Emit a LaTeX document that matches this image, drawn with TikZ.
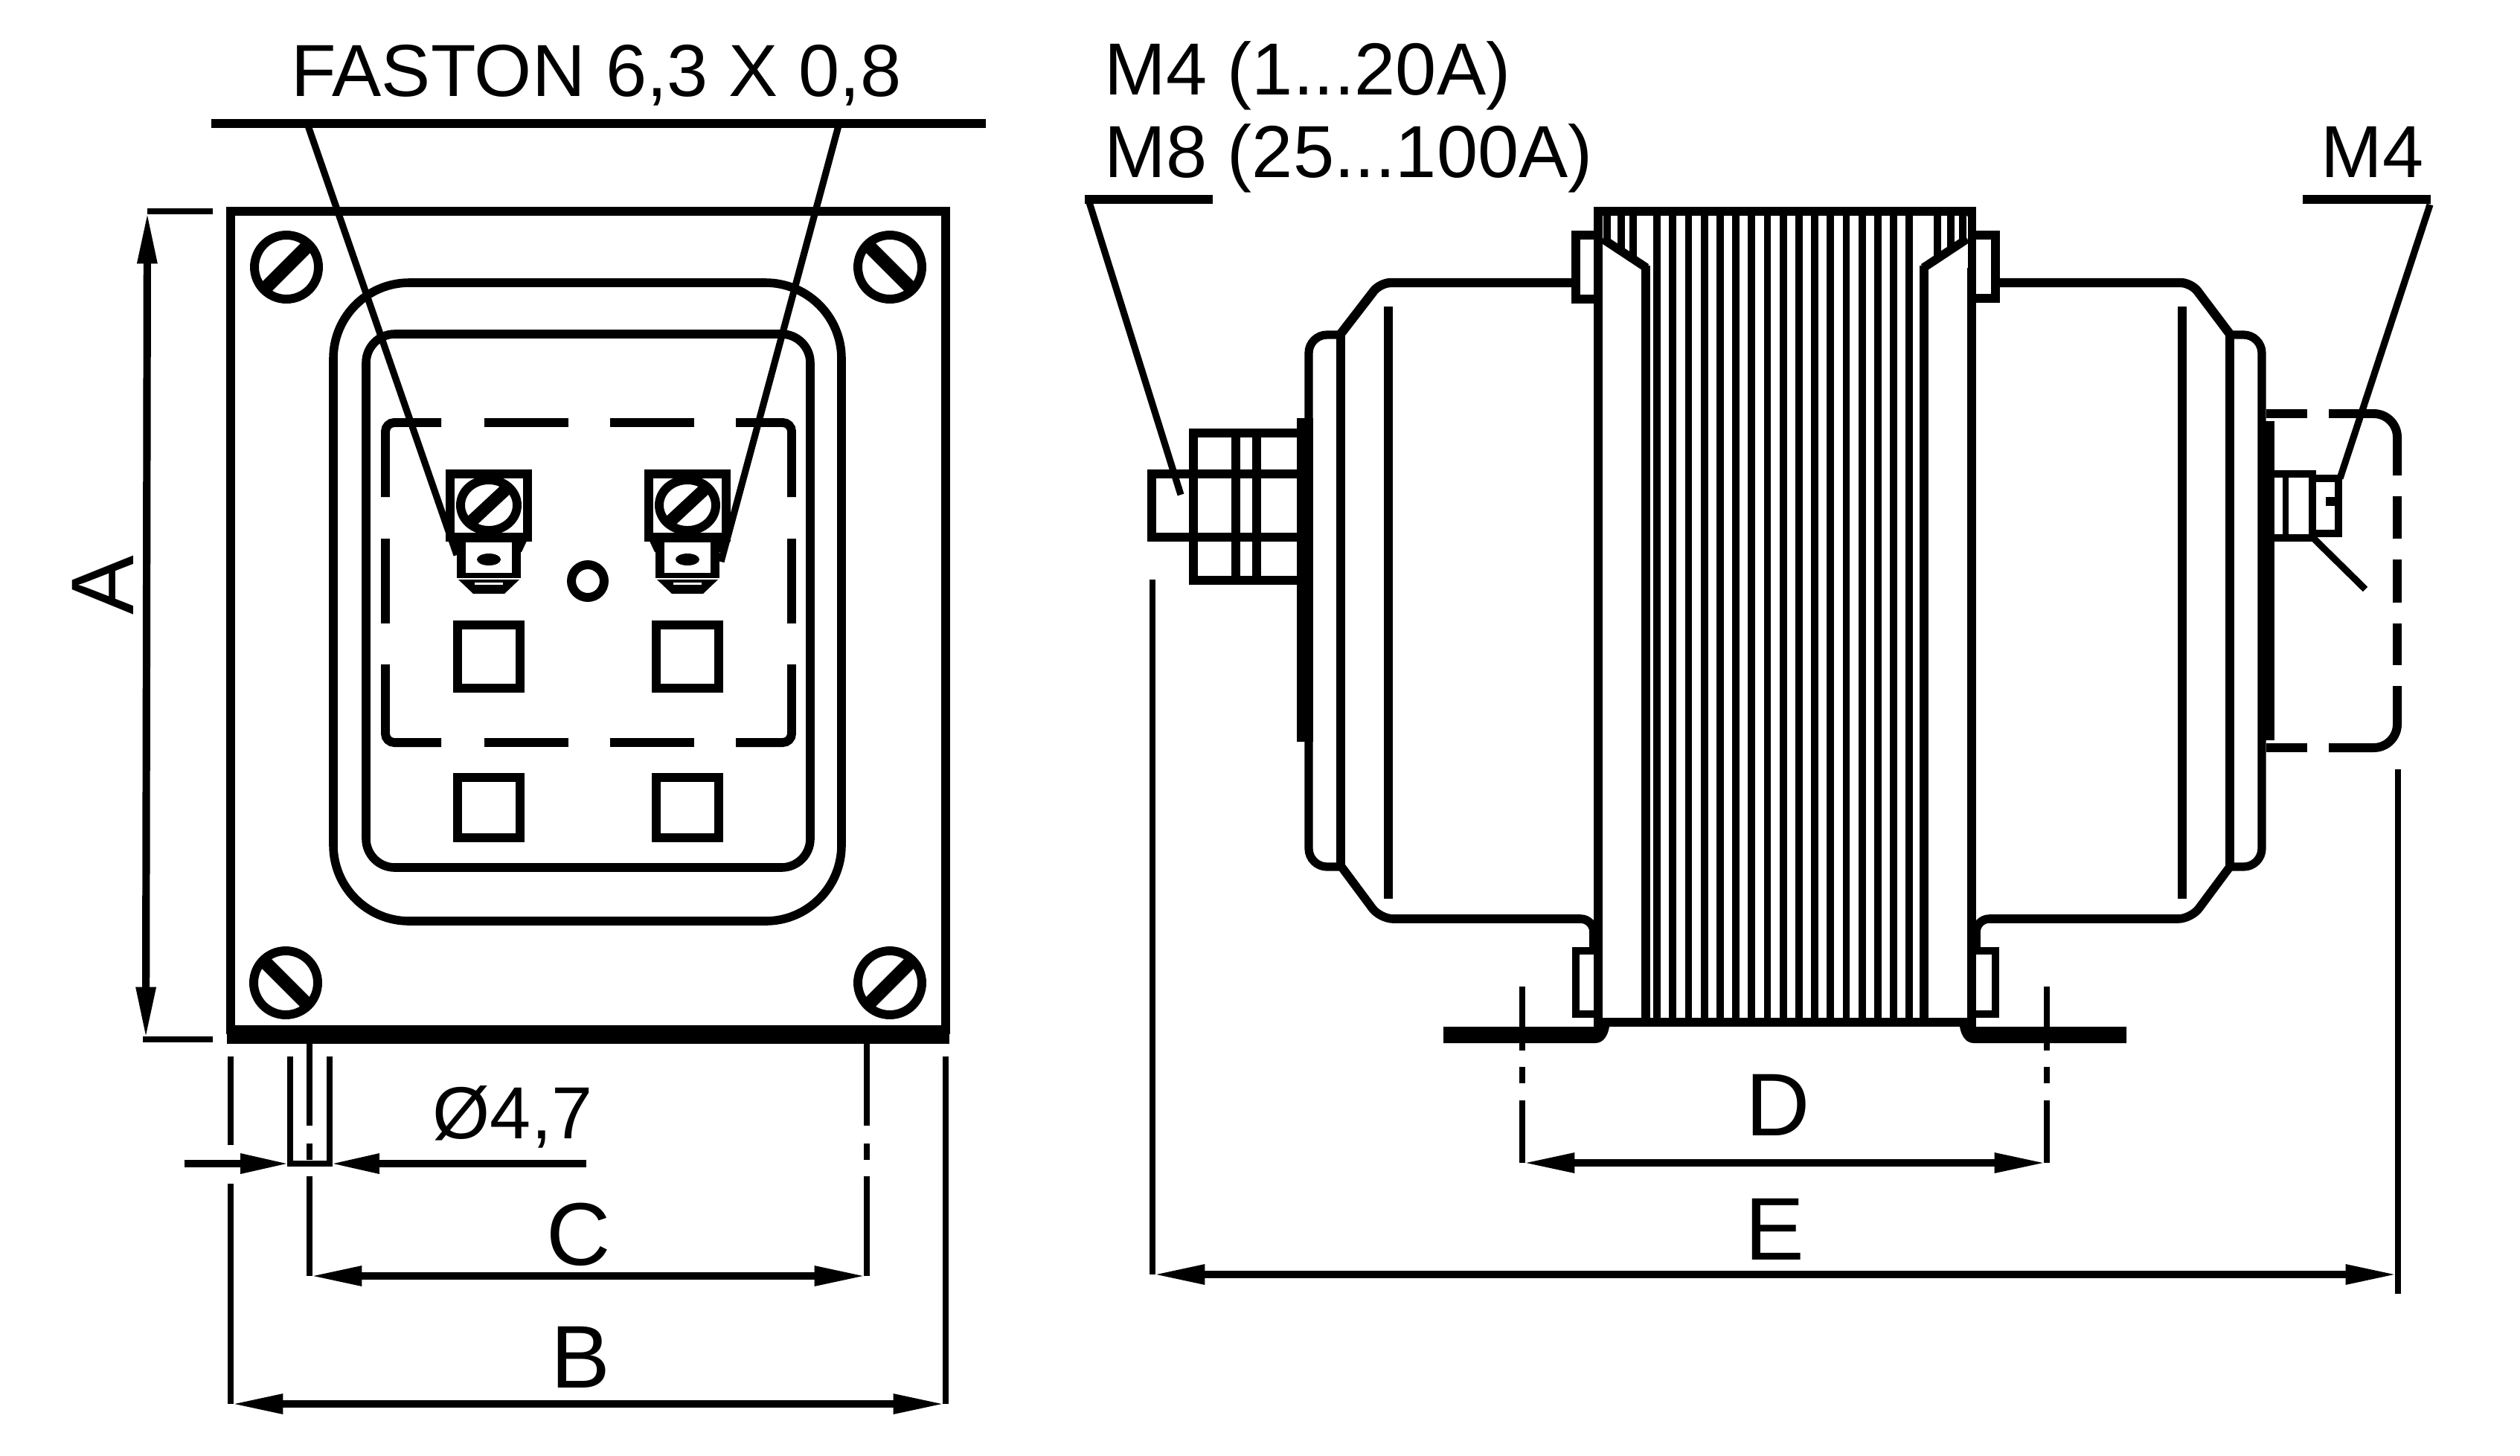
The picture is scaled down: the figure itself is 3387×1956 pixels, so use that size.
\documentclass[tikz,border=0pt]{standalone}
\usepackage{fontspec}
\setmainfont{Liberation Sans}
\usetikzlibrary{arrows.meta}

\tikzset{
    outline/.style={line width=3.3pt},
    thinline/.style={line width=2.5pt},
    leader/.style={line width=2.6pt},
    dimline/.style={line width=2.9pt, {Triangle[length=20pt,width=7pt]}-{Triangle[length=20pt,width=7pt]}},
    dimend/.style={line width=2.9pt, -{Triangle[length=19pt,width=7pt]}},
    smalltext/.style={inner sep=0pt, anchor=base west, font=\fontsize{28.2}{30}\selectfont},
    dimtext/.style={inner sep=0pt, anchor=base, font=\fontsize{34}{36}\selectfont}
}

\begin{document}
\begin{tikzpicture}[x=0.01cm, y=-0.01cm]
    \useasboundingbox (0,0) rectangle (3387,1956);

    % front view
    \draw[outline] (310,1390) -- (310,284) -- (1271,284) -- (1271,1390);
    \fill (305,1378) rectangle (1276,1403);
    \draw[outline, rounded corners=29pt] (448,380) rectangle (1131,1238);
    \draw[outline, rounded corners=11pt] (492,449) rectangle (1089,1166);

    \foreach \sx/\sy/\sa in {385/359/45, 1196/359/135, 384/1321/135, 1196/1321/45} {
        \draw[outline, line width=3.4pt] (\sx,\sy) ellipse [x radius=43, y radius=43];
        \draw[line width=5.2pt] (\sx,\sy) +(\sa:-42 and 42) -- +(\sa:42 and -42);
    }

    % dashed outline of the terminal board
    \begin{scope}[outline, line width=3.4pt, rounded corners=3.4pt]
        \draw (518,668) -- (518,568) -- (593,568);
        \draw (989,568) -- (1064,568) -- (1064,668);
        \draw (518,893) -- (518,998) -- (593,998);
        \draw (989,998) -- (1064,998) -- (1064,893);
        \foreach \dx in {518,1064} \draw (\dx,724) -- (\dx,838);
        \foreach \dy in {568,998} {
            \draw (651,\dy) -- (764,\dy);
            \draw (820,\dy) -- (933,\dy);
        }
    \end{scope}

    \foreach \tx in {657,924} {
        \begin{scope}[shift={(\tx,0)}]
            \draw[outline, line width=3.3pt] (-52,637) rectangle (52,722);
            \draw[outline, line width=3.4pt] (0,679) ellipse [x radius=38, y radius=34];
            \draw[line width=4.8pt] (-29,706) -- (29,652);
            \draw[outline, line width=3.4pt] (-32,723) -- (32,723);
            \draw[outline, line width=3.4pt] (-37,722) -- (-37,772) (37,722) -- (37,772);
            \draw[line width=2pt] (-43,773) -- (43,773);
            \fill (-41,779) -- (-21,798) -- (21,798) -- (41,779) -- cycle;
            \fill[white] (-19,783) rectangle (19,786);
            \fill (0,752) ellipse [x radius=16, y radius=8];
            \fill (-52,725) -- (-32,725) -- (-37,742) -- (-44,742) -- cycle;
            \fill (52,725) -- (32,725) -- (37,742) -- (44,742) -- cycle;
        \end{scope}
        \draw[outline, line width=3.4pt] (\tx-42,840) rectangle (\tx+42,925);
        \draw[outline, line width=3.4pt] (\tx-42,1045) rectangle (\tx+42,1126);
    }
    \draw[outline, line width=3.4pt] (790,781) circle [radius=22];

    \node[smalltext] (faston) at (391,129) {FASTON 6,3 X 0,8};
    \coordinate (fastonl) at (284,166);
    \coordinate (fastonr) at (1325,166);
    \coordinate (fastona) at (414,169);
    \coordinate (fastonb) at (1127,169);
    \coordinate (tabl) at (614,746);
    \coordinate (tabr) at (969,755);
    \draw[outline] (fastonl) -- (fastonr);
    \draw[leader] (fastona) -- (tabl);
    \draw[leader] (fastonb) -- (tabr);

    % dimensions of the front view
    \coordinate (atop) at (198,284);
    \coordinate (abot) at (196,1397);
    \draw[thinline] (198,284) -- (286,284);
    \draw[thinline] (192,1397) -- (286,1397);
    \draw[dimline] (atop) -- (abot);
    \node[dimtext, rotate=90] (labela) at (179,787) {A};

    \coordinate (holel) at (390,1564);
    \coordinate (holer) at (443,1564);
    \draw[thinline] (390,1420) -- (holel) -- (holer) -- (443,1420);
    \draw[dimend] (248,1564) -- (holel);
    \draw[dimend] (788,1564) -- (holer);
    \node[smalltext] (hole) at (581,1530) {Ø4,7};

    \foreach \cx in {416,1165} {
        \draw[thinline] (\cx,1402) -- (\cx,1513) (\cx,1537) -- (\cx,1559) (\cx,1581) -- (\cx,1715);
    }
    \coordinate (cl) at (416,1715);
    \coordinate (cr) at (1165,1715);
    \draw[dimline] (cl) -- (cr);
    \node[dimtext] (labelc) at (778,1700) {C};

    \draw[thinline] (310,1420) -- (310,1539) (310,1591) -- (310,1887);
    \draw[thinline] (1271,1420) -- (1271,1887);
    \coordinate (bl) at (310,1887);
    \coordinate (br) at (1271,1887);
    \draw[dimline] (bl) -- (br);
    \node[dimtext] (labelb) at (780,1865) {B};

    % side view, core
    \draw[outline, line width=3.3pt] (2148,1374) -- (2148,284) -- (2650,284) -- (2650,1374) -- cycle;
    \draw[outline, line width=3.3pt] (2212,357) -- (2212,1374);
    \draw[outline, line width=3.3pt] (2586,357) -- (2586,1374);
    \foreach \i in {0,...,16} {
        \draw[line width=2.8pt] ({2227+21.2*\i},284) -- ({2227+21.2*\i},1374);
    }
    \fill[white] (2154,291) rectangle (2207,360);
    \fill[white] (2591,291) rectangle (2645,360);
    \foreach \hx/\hy in {2160/326, 2179/338, 2195/349, 2604/349, 2622/338, 2638/326} {
        \draw[line width=2.8pt] (\hx,284) -- (\hx,\hy);
    }
    \draw[outline] (2154,321) -- (2213,360);
    \draw[outline] (2644,321) -- (2585,360);

    % clips on the core
    \draw[outline] (2148,316) -- (2118,316) -- (2118,402) -- (2148,402);
    \draw[outline] (2650,316) -- (2682,316) -- (2682,401) -- (2650,401);
    \draw[thinline, line width=2.8pt] (2148,1278) -- (2118,1278) -- (2118,1363) -- (2148,1363);
    \draw[thinline, line width=2.8pt] (2650,1278) -- (2682,1278) -- (2682,1363) -- (2650,1363);

    % left winding
    \draw[outline, line width=3.5pt, rounded corners=4pt] (2118,380) -- (1855,380) -- (1801,450);
    \draw[outline, line width=3.2pt, rounded corners=7pt] (1801,450) -- (1759,450) -- (1759,1165) -- (1803,1165);
    \draw[outline, line width=3.6pt] (1802,445) -- (1802,1165);
    \draw[outline, line width=3.3pt] (1866,412) -- (1866,1208);
    \draw[outline, line width=3.3pt, rounded corners=5pt] (1803,1165) -- (1855,1235) -- (2142,1235) -- (2142,1280);
    \fill (1743,562) rectangle (1765,997);

    % right winding
    \draw[outline, line width=3.5pt, rounded corners=4pt] (2682,380) -- (2945,380) -- (2997,449);
    \draw[outline, line width=3.2pt, rounded corners=7pt] (2997,450) -- (3040,450) -- (3040,1165) -- (2997,1165);
    \draw[outline, line width=3.6pt] (2997,445) -- (2997,1165);
    \draw[outline, line width=3.3pt] (2933,412) -- (2933,1208);
    \draw[outline, line width=3.3pt, rounded corners=5pt] (2997,1165) -- (2945,1235) -- (2656,1235) -- (2656,1280);
    \fill (3040,566) rectangle (3057,995);

    % feet
    \fill (1940,1380) -- (2163,1380) .. controls (2161,1392) and (2155,1402) .. (2144,1402) -- (1940,1402) -- cycle;
    \fill (2858,1380) -- (2634,1380) .. controls (2636,1392) and (2642,1402) .. (2653,1402) -- (2858,1402) -- cycle;

    % left bolt
    \draw[outline, line width=3.5pt] (1753,637) -- (1548,637) -- (1548,722) -- (1753,722);
    \draw[outline, line width=3.5pt] (1753,582) -- (1604,582) -- (1604,780) -- (1753,780);
    \foreach \bx in {1661,1689} \draw[outline, line width=3.3pt] (\bx,582) -- (\bx,780);

    % right bolt
    \draw[thinline, line width=3pt] (3057,637) -- (3108,637) -- (3108,723) -- (3057,723);
    \draw[thinline] (3072,637) -- (3072,723);
    \draw[thinline, line width=3pt] (3108,643) -- (3143,643) -- (3143,717) -- (3108,717);
    \fill (3126,668) rectangle (3143,680);
    \draw[leader] (3110,724) -- (3179,792);

    % dashed cover
    \begin{scope}[outline, line width=3.4pt, rounded corners=9pt]
        \draw (3046,556) -- (3101,556);
        \draw (3130,556) -- (3222,556) -- (3222,639);
        \draw (3046,1005) -- (3101,1005);
        \draw (3130,1005) -- (3222,1005) -- (3222,922);
        \foreach \cy/\cz in {667/724, 752/810, 838/894} \draw (3222,\cy) -- (3222,\cz);
    \end{scope}

    % leaders of the side view
    \node[smalltext] (mfour) at (1484,127) {M4 (1...20A)};
    \node[smalltext] (meight) at (1484,238) {M8 (25...100A)};
    \node[smalltext] (mterm) at (3119,238) {M4};
    \coordinate (meighta) at (1458,268);
    \coordinate (meightb) at (1630,268);
    \coordinate (meightc) at (1464,272);
    \coordinate (boltl) at (1587,665);
    \draw[outline] (meighta) -- (meightb);
    \draw[leader] (meightc) -- (boltl);
    \coordinate (mterma) at (3095,268);
    \coordinate (mtermb) at (3267,268);
    \coordinate (mtermc) at (3266,275);
    \coordinate (boltr) at (3145,643);
    \draw[outline] (mterma) -- (mtermb);
    \draw[leader] (mtermc) -- (boltr);

    % dimensions of the side view
    \foreach \dx in {2046,2751} {
        \draw[thinline] (\dx,1326) -- (\dx,1412) (\dx,1434) -- (\dx,1456) (\dx,1479) -- (\dx,1563);
    }
    \coordinate (dl) at (2046,1563);
    \coordinate (dr) at (2751,1563);
    \draw[dimline] (dl) -- (dr);
    \node[dimtext] (labeld) at (2390,1526) {D};

    \draw[thinline] (1549,779) -- (1549,1713);
    \draw[thinline] (3223,1034) -- (3223,1739);
    \coordinate (el) at (1549,1713);
    \coordinate (er) at (3223,1713);
    \draw[dimline] (el) -- (er);
    \node[dimtext] (labele) at (2385,1693) {E};
\end{tikzpicture}
\end{document}
